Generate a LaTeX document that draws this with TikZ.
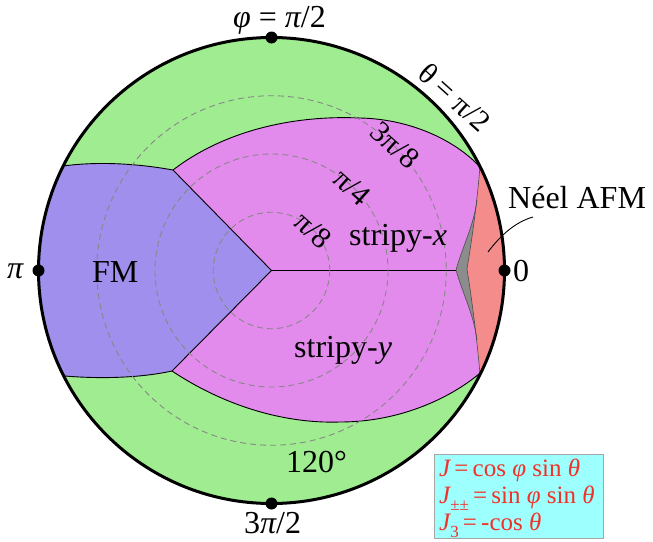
\documentclass[tikz,border=0pt]{standalone}
\usepackage{fontspec}
\setmainfont{Liberation Serif}
\definecolor{cgreen}{RGB}{160,236,144}
\definecolor{cmag}{RGB}{227,139,236}
\definecolor{cfm}{RGB}{160,143,236}
\definecolor{cpink}{RGB}{244,140,140}
\definecolor{cgray}{RGB}{140,140,140}
\definecolor{ccyan}{RGB}{158,255,255}
\definecolor{cred}{RGB}{240,50,40}
\definecolor{cdash}{RGB}{135,135,135}
\begin{document}
\begin{tikzpicture}[x=1pt,y=-1pt,
  bound/.style={line width=0.9pt,black},
  dashcirc/.style={cdash,line width=0.9pt,dash pattern=on 6pt off 4pt},
  dotn/.style={circle,fill=black,inner sep=0pt,minimum size=12pt},
  biglabel/.style={font=\fontsize{32}{36}\selectfont,inner sep=0pt},
  arclabel/.style={font=\fontsize{30}{34}\selectfont,inner sep=0pt,rotate=-42},
  leglabel/.style={font=\fontsize{25}{27}\selectfont,text=cred,inner sep=0pt,anchor=base west}]
\useasboundingbox (0,0) rectangle (653,541);
\coordinate (O) at (271.5,270.5);
\def\topcurve{(173,170) .. controls (225,130) and (295,115) .. (360,118) .. controls (410,119) and (455,140) .. (480,167)}
\def\botcurve{(479,374) .. controls (450,398) and (400,422) .. (340,422) .. controls (280,424) and (220,403) .. (172,371)}
\fill[cgreen] (O) circle[radius=233];
\begin{scope}
\clip (O) circle[radius=233];
% stripy (magenta)
\fill[cmag] \topcurve -- (560,167) -- (560,374) -- \botcurve -- cycle;
% FM
\fill[cfm] (O) -- (173,170) .. controls (140,164) and (100,161) .. (63,166) -- (0,166) -- (0,376) -- (65,376) .. controls (100,379) and (140,378) .. (172,371) -- cycle;
% gray sliver
\fill[cgray] (477,200) .. controls (474,225) and (462,248) .. (456,270) .. controls (462,292) and (474,315) .. (477,340) -- (540,340) -- (540,200) -- cycle;
% Neel AFM
\fill[cpink] (480,166) .. controls (477,205) and (471,245) .. (467,269) .. controls (472,300) and (477,340) .. (480,374) -- (560,374) -- (560,166) -- cycle;
% boundaries
\draw[bound] \topcurve;
\draw[bound] \botcurve;
\draw[bound] (173,170) .. controls (140,164) and (100,161) .. (63,166) -- (40,165);
\draw[bound] (172,371) .. controls (140,378) and (100,379) .. (65,376) -- (40,376);
\draw[bound] (173,170) -- (O) -- (172,371);
\draw[bound] (O) -- (456,270.5);
\draw[line width=0.6pt,black!70] (477,200) .. controls (474,225) and (462,248) .. (456,270) .. controls (462,292) and (474,315) .. (477,340);
\draw[line width=0.6pt,black!70] (480,166) .. controls (477,205) and (471,245) .. (467,269) .. controls (472,300) and (477,340) .. (480,374);
\end{scope}
% dashed circles
\draw[dashcirc] (O) circle[radius=58.25];
\draw[dashcirc] (O) circle[radius=116.5];
\draw[dashcirc] (O) circle[radius=174.75];
% outer circle
\draw[line width=3pt] (O) circle[radius=233];
% dots
\node[dotn] (ptop) at (271.5,37.5) {};
\node[dotn] (pleft) at (38.5,270.5) {};
\node[dotn] (pright) at (504.5,270.5) {};
\node[dotn] (pbot) at (271.5,503.5) {};
% labels
\node[biglabel,anchor=base west] (lphi) at (233,27) {\itshape φ \upshape = \itshape π\upshape/2};
\node[biglabel,anchor=base west] (lpi) at (7,278) {\itshape π};
\node[biglabel,anchor=base west] (lzero) at (513,281) {0};
\node[biglabel,anchor=base west] (l3pi2) at (244,533) {3\itshape π\upshape/2};
\node[biglabel,anchor=base west] (l120) at (286,472) {120°};
\node[biglabel,anchor=base west] (lfm) at (92,282) {FM};
\node[biglabel,anchor=base west] (lsx) at (349,245) {stripy-\itshape x};
\node[biglabel,anchor=base west] (lsy) at (294,357) {stripy-\itshape y};
\node[biglabel,anchor=base west] (lneel) at (508,208) {Néel AFM};
\node[arclabel] (ltheta) at (455,97) {θ = π/2};
\node[arclabel] (l3pi8) at (395,145) {3π/8};
\node[arclabel] (lpi4) at (352,187) {π/4};
\node[arclabel] (lpi8) at (313,230) {π/8};
% leader
\coordinate (neelpt) at (488,252);
\coordinate (neelst) at (533,217);
\draw[line width=0.9pt] (neelst) .. controls (515,222) and (500,236) .. (neelpt);
% legend
\node[draw=black!35,line width=1.2pt,fill=ccyan,minimum width=169pt,minimum height=84pt,anchor=north west,inner sep=0pt] (legend) at (434,454) {};
\node[leglabel] (leg1) at (439,476) {\itshape J\upshape\,=\,cos \itshape φ\upshape{} sin \itshape θ};
\node[leglabel] (leg2) at (439,503) {\itshape J\upshape\raisebox{-0.28em}{\fontsize{17}{17}\selectfont ±±}\,=\,sin \itshape φ\upshape{} sin \itshape θ};
\node[leglabel] (leg3) at (439,530) {\itshape J\upshape\raisebox{-0.28em}{\fontsize{17}{17}\selectfont 3}\,=\,-cos \itshape θ};
\end{tikzpicture}
\end{document}
